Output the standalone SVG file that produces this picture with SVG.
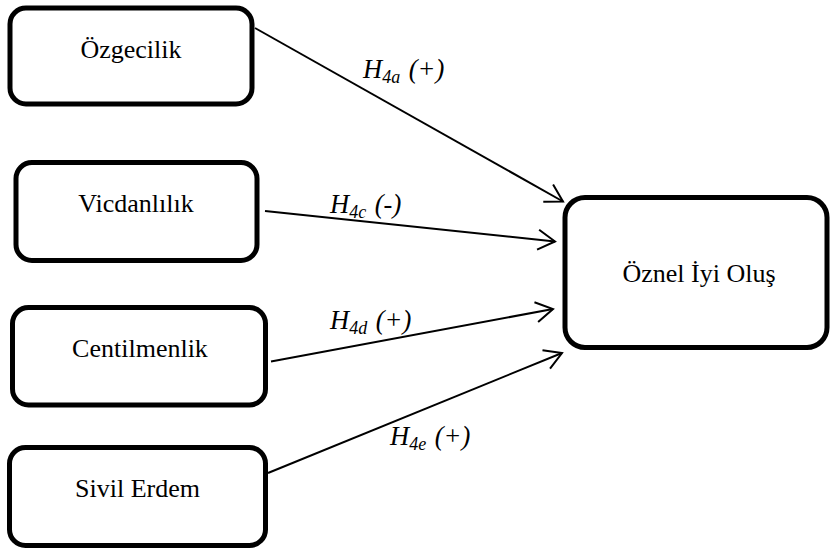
<svg xmlns="http://www.w3.org/2000/svg" width="831" height="551" viewBox="0 0 831 551">
<style>
.box{fill:#fff;stroke:#000;stroke-width:5}
.t{font-family:"Liberation Serif","Times New Roman",serif;font-size:26px;fill:#000;text-anchor:middle}
.c{stroke:#000;stroke-width:2;fill:none;marker-end:url(#ah)}
.l{font-family:"Liberation Serif","Times New Roman",serif;font-style:italic;font-size:26.5px;fill:#000}
.s{font-size:18px}
</style>
<defs>
<marker id="ah" markerUnits="userSpaceOnUse" markerWidth="30" markerHeight="30" refX="0" refY="0" viewBox="-20 -15 25 30" orient="auto" overflow="visible">
<path d="M-17,-10 L0,0 L-17,10" fill="none" stroke="#000" stroke-width="2"/>
</marker>
</defs>
<g id="connectors">
<line class="c" x1="255" y1="28" x2="563" y2="201.5"/>
<line class="c" x1="265" y1="211" x2="555" y2="241.5"/>
<line class="c" x1="271" y1="361.5" x2="553" y2="309"/>
<line class="c" x1="268" y1="473" x2="562" y2="353"/>
</g>
<g id="labels">
<text class="l" x="363" y="78">H<tspan class="s" dy="5">4a</tspan><tspan dy="-5" dx="2"> (+)</tspan></text>
<text class="l" x="330" y="213">H<tspan class="s" dy="5">4c</tspan><tspan dy="-5" dx="2"> (-)</tspan></text>
<text class="l" x="330" y="329">H<tspan class="s" dy="5">4d</tspan><tspan dy="-5" dx="2"> (+)</tspan></text>
<text class="l" x="390" y="445">H<tspan class="s" dy="5">4e</tspan><tspan dy="-5" dx="2"> (+)</tspan></text>
</g>
<g id="ozgecilik">
<rect class="box" x="10" y="8" width="242" height="96" rx="16"/>
<text class="t" x="131" y="58">Özgecilik</text>
</g>
<g id="vicdanlilik">
<rect class="box" x="16" y="162.5" width="241" height="98" rx="16"/>
<text class="t" x="136" y="211.5">Vicdanlılık</text>
</g>
<g id="centilmenlik">
<rect class="box" x="12.5" y="307.5" width="253" height="97.5" rx="16"/>
<text class="t" x="140" y="356.5">Centilmenlik</text>
</g>
<g id="sivil-erdem">
<rect class="box" x="9.5" y="447.5" width="256" height="98" rx="16"/>
<text class="t" x="137.5" y="496.5">Sivil Erdem</text>
</g>
<g id="oznel-iyi-olus">
<rect class="box" x="565" y="197.5" width="262" height="150" rx="20"/>
<text class="t" x="699" y="281.5">Öznel İyi Oluş</text>
</g>
</svg>
